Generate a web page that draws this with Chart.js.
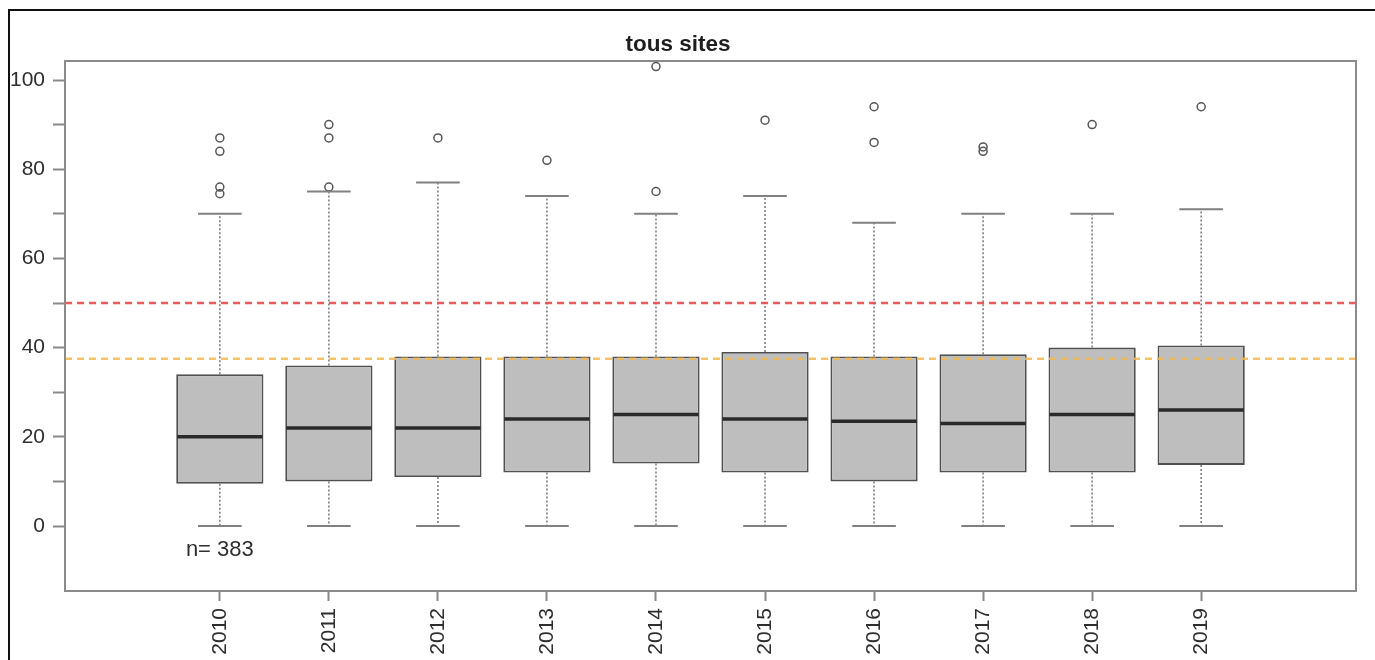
<!DOCTYPE html>
<html>
<head>
<meta charset="utf-8">
<script src="https://cdn.jsdelivr.net/npm/chart.js@4"></script>
<style>
  body { margin: 0; background: #fff; }
  #wrap { position: relative; width: 1375px; height: 660px; overflow: hidden; }
  #frame { position: absolute; left: 8px; top: 9px; right: -4px; bottom: -4px; border-left: 2px solid #111; border-top: 2px solid #111; }
  canvas { position: absolute; left: 0; top: 0; }
</style>
</head>
<body>
<div id="wrap">
  <div id="frame"></div>
  <canvas id="boxChart" width="1375" height="660"></canvas>
</div>
<script>
const years = ['2010', '2011', '2012', '2013', '2014', '2015', '2016', '2017', '2018', '2019'];
const q1 = [9.5, 10, 11, 12, 14, 12, 10, 12, 12, 13.7];
const medians = [20, 22, 22, 24, 25, 24, 23.5, 23, 25, 26];
const q3 = [34, 36, 38, 38, 38, 39, 38, 38.5, 40, 40.5];
const whiskerLow = [0, 0, 0, 0, 0, 0, 0, 0, 0, 0];
const whiskerHigh = [70, 75, 77, 74, 70, 74, 68, 70, 70, 71];
const outliers = [[87, 84, 76, 74.5], [90, 87, 76], [87], [82], [103, 75], [91], [94, 86], [85, 84], [90], [94]];
const yTicks = [0, 10, 20, 30, 40, 50, 60, 70, 80, 90, 100];
const limitRed = 50;
const limitOrange = 37.5;
const nLabel = 'n= 383';

const FONT = "'Liberation Sans', Arial, Helvetica, sans-serif";

const boxData = years.map((y, i) => ({ x: i, y: [q1[i], q3[i]] }));
const outlierData = [];
outliers.forEach((list, i) => list.forEach(v => outlierData.push({ x: i, y: v })));

// whiskers, caps, medians, limit lines and the n label
const boxExtras = {
    id: 'boxExtras',
    afterDatasetsDraw(chart) {
        const ctx = chart.ctx;
        const xs = chart.scales.x, ys = chart.scales.y;
        const area = chart.chartArea;
        const bars = chart.getDatasetMeta(0).data;
        ctx.save();
        years.forEach((yr, i) => {
            const cx = xs.getPixelForValue(i);
            const half = bars[i].width / 2;
            // dotted whiskers
            ctx.strokeStyle = '#777';
            ctx.lineWidth = 1.5;
            ctx.setLineDash([2, 2]);
            ctx.beginPath();
            ctx.moveTo(cx, ys.getPixelForValue(q3[i]));
            ctx.lineTo(cx, ys.getPixelForValue(whiskerHigh[i]));
            ctx.moveTo(cx, ys.getPixelForValue(q1[i]));
            ctx.lineTo(cx, ys.getPixelForValue(whiskerLow[i]));
            ctx.stroke();
            // caps
            ctx.setLineDash([]);
            ctx.strokeStyle = '#808080';
            ctx.lineWidth = 2;
            ctx.beginPath();
            [whiskerHigh[i], whiskerLow[i]].forEach(v => {
                const py = ys.getPixelForValue(v);
                ctx.moveTo(cx - half / 2, py);
                ctx.lineTo(cx + half / 2, py);
            });
            ctx.stroke();
            // median
            ctx.strokeStyle = '#2a2a2a';
            ctx.lineWidth = 3.5;
            ctx.beginPath();
            const my = ys.getPixelForValue(medians[i]);
            ctx.moveTo(cx - half + 1, my);
            ctx.lineTo(cx + half - 1, my);
            ctx.stroke();
        });
        // limit lines
        [[limitRed, 'rgba(240,70,70,0.9)'], [limitOrange, 'rgba(245,185,70,0.85)']].forEach(([v, col]) => {
            const py = ys.getPixelForValue(v);
            ctx.strokeStyle = col;
            ctx.lineWidth = 2.5;
            ctx.setLineDash([7, 5]);
            ctx.beginPath();
            ctx.moveTo(area.left, py);
            ctx.lineTo(area.right, py);
            ctx.stroke();
        });
        ctx.setLineDash([]);
        // plot frame
        ctx.strokeStyle = '#8a8a8a';
        ctx.lineWidth = 2;
        ctx.strokeRect(area.left, area.top, area.right - area.left, area.bottom - area.top);
        // sample size
        ctx.fillStyle = '#2e2e2e';
        ctx.font = '22px ' + FONT;
        ctx.textAlign = 'center';
        ctx.textBaseline = 'middle';
        ctx.fillText(nLabel, xs.getPixelForValue(0), ys.getPixelForValue(-5.4));
        ctx.restore();
    }
};

const myChart = new Chart(document.getElementById('boxChart'), {
    type: 'bar',
    data: {
        datasets: [{
            data: boxData,
            backgroundColor: '#bebebe',
            borderColor: '#505050',
            borderWidth: 1.8,
            borderSkipped: false,
            categoryPercentage: 1,
            barPercentage: 0.8
        }, {
            type: 'scatter',
            data: outlierData,
            pointStyle: 'circle',
            pointRadius: 4,
            backgroundColor: 'rgba(0,0,0,0)',
            borderColor: '#555',
            borderWidth: 1.5
        }]
    },
    options: {
        responsive: false,
        animation: false,
        layout: { padding: { left: 0, right: 19, top: 0, bottom: 0 } },
        scales: {
            x: {
                type: 'linear',
                offset: false,
                min: -1.42,
                max: 10.42,
                afterBuildTicks: s => { s.ticks = years.map((y, i) => ({ value: i })); },
                afterFit: s => { s.height = 69; },
                grid: { offset: false, drawOnChartArea: false, tickLength: 10, tickColor: '#888', tickWidth: 2 },
                border: { display: false },
                ticks: {
                    autoSkip: false,
                    minRotation: 90,
                    maxRotation: 90,
                    padding: 7,
                    color: '#2e2e2e',
                    font: { family: FONT, size: 21 },
                    callback: v => years[v]
                }
            },
            y: {
                min: -14.57,
                max: 104.26,
                afterBuildTicks: s => { s.ticks = yTicks.map(v => ({ value: v })); },
                afterFit: s => { s.width = 65; },
                grid: { drawOnChartArea: false, tickLength: 12, tickColor: '#888', tickWidth: 2 },
                border: { display: false },
                ticks: {
                    padding: 8,
                    color: '#2e2e2e',
                    font: { family: FONT, size: 21 },
                    callback: v => (v % 20 === 0 ? v : '')
                }
            }
        },
        plugins: {
            legend: { display: false },
            tooltip: { enabled: false },
            title: {
                display: true,
                text: 'tous sites',
                color: '#1e1e1e',
                font: { family: FONT, size: 22.5, weight: 'bold', lineHeight: 1.2 },
                padding: { top: 31, bottom: 3 }
            }
        }
    },
    plugins: [boxExtras]
});
</script>
</body>
</html>
